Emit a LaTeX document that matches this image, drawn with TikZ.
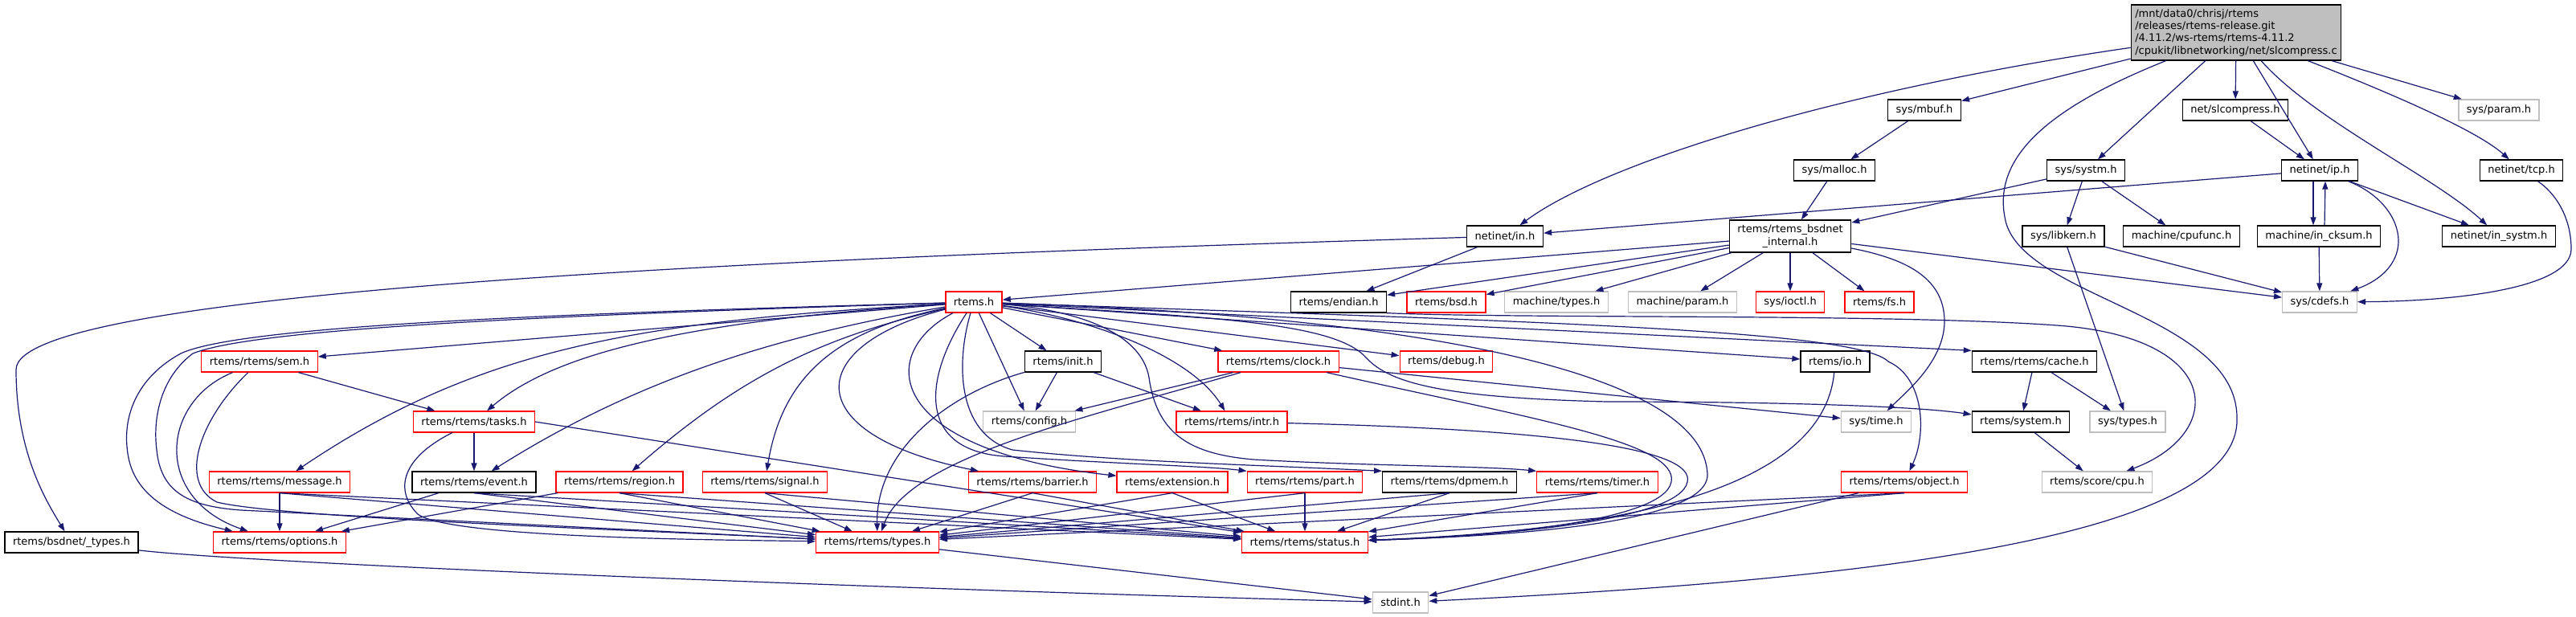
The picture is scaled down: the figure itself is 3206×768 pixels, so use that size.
\documentclass[tikz,border=0pt]{standalone}
\usepackage{fontspec}
\setmainfont{DejaVu Sans}
\usetikzlibrary{arrows.meta}
\definecolor{edgeblue}{HTML}{191970}
\definecolor{boxgrey}{HTML}{BFBFBF}
\definecolor{boxred}{HTML}{FF0000}
\begin{document}
\begin{tikzpicture}[x=1pt, y=-1pt,
  box/.style={draw=black, fill=white, line width=1.3pt, inner xsep=10pt, inner ysep=0pt, minimum height=26pt, font=\fontsize{13}{15.3}\selectfont},
  trunc/.style={box, draw=boxred},
  nodoc/.style={box, draw=boxgrey},
  srcbox/.style={box, fill=boxgrey, align=left, inner xsep=5pt, minimum height=69pt},
  dep/.style={draw=edgeblue, line width=1.2pt, -{Triangle[length=10pt, width=7pt]}}]
\useasboundingbox[fill=white] (0,0) rectangle (3206,768);

\node[srcbox] (main) at (2783,40.5) {/mnt/data0/chrisj/rtems\\/releases/rtems-release.git\\/4.11.2/ws-rtems/rtems-4.11.2\\/cpukit/libnetworking/net/slcompress.c};

\node[box] (mbuf) at (2395,137) {sys/mbuf.h};
\node[box] (slc) at (2782,137) {net/slcompress.h};
\node[nodoc] (param) at (3110,137) {sys/param.h};

\node[box] (malloc) at (2283,212) {sys/malloc.h};
\node[box] (systm) at (2596,212) {sys/systm.h};
\node[box] (ip) at (2887,212) {netinet/ip.h};
\node[box] (tcp) at (3138,212) {netinet/tcp.h};

\node[box] (in) at (1873,294) {netinet/in.h};
\node[box, align=center, minimum height=40pt] (bsdnet) at (2228,294) {rtems/rtems\_bsdnet\\\_internal.h};
\node[box] (libkern) at (2568,294) {sys/libkern.h};
\node[box] (cpufunc) at (2715,294) {machine/cpufunc.h};
\node[box] (cksum) at (2886,294) {machine/in\_cksum.h};
\node[box] (insystm) at (3110,294) {netinet/in\_systm.h};

\node[trunc] (rtemsh) at (1212,376) {rtems.h};
\node[box] (endian) at (1666,376) {rtems/endian.h};
\node[trunc] (bsd) at (1800,376) {rtems/bsd.h};
\node[nodoc] (mtypes) at (1937,376) {machine/types.h};
\node[nodoc] (mparam) at (2094,376) {machine/param.h};
\node[trunc] (ioctl) at (2228,376) {sys/ioctl.h};
\node[trunc] (fs) at (2339,376) {rtems/fs.h};
\node[nodoc] (cdefs) at (2887,376) {sys/cdefs.h};

\node[trunc] (sem) at (323,450) {rtems/rtems/sem.h};
\node[box] (init) at (1323,450) {rtems/init.h};
\node[trunc] (clock) at (1591,450) {rtems/rtems/clock.h};
\node[trunc] (debug) at (1800,450) {rtems/debug.h};
\node[box] (io) at (2284,450) {rtems/io.h};
\node[box] (cache) at (2532,450) {rtems/rtems/cache.h};

\node[trunc] (tasks) at (590,525) {rtems/rtems/tasks.h};
\node[nodoc] (config) at (1281,525) {rtems/config.h};
\node[trunc] (intr) at (1533,525) {rtems/rtems/intr.h};
\node[nodoc] (time) at (2335,525) {sys/time.h};
\node[box] (system) at (2515,525) {rtems/system.h};
\node[nodoc] (stypes) at (2648,525) {sys/types.h};

\node[trunc] (message) at (348,600) {rtems/rtems/message.h};
\node[box] (event) at (590,600) {rtems/rtems/event.h};
\node[trunc] (region) at (771,600) {rtems/rtems/region.h};
\node[trunc] (signal) at (952,600) {rtems/rtems/signal.h};
\node[trunc] (barrier) at (1285,600) {rtems/rtems/barrier.h};
\node[trunc] (ext) at (1459,600) {rtems/extension.h};
\node[trunc] (part) at (1624,600) {rtems/rtems/part.h};
\node[box] (dpmem) at (1804,600) {rtems/rtems/dpmem.h};
\node[trunc] (timer) at (1988,600) {rtems/rtems/timer.h};
\node[trunc] (object) at (2370,600) {rtems/rtems/object.h};
\node[nodoc] (cpu) at (2610,600) {rtems/score/cpu.h};

\node[box] (btypes) at (89,675) {rtems/bsdnet/\_types.h};
\node[trunc] (options) at (348,675) {rtems/rtems/options.h};
\node[trunc] (types) at (1092,675) {rtems/rtems/types.h};
\node[trunc] (status) at (1624,675) {rtems/rtems/status.h};

\node[nodoc] (stdint) at (1743,750) {stdint.h};

\draw[dep] (main) .. controls (2300,110) and (2000,200) .. (in);
\draw[dep] (main) -- (mbuf);
\draw[dep] (main) .. controls (2560,130) and (2480,190) .. (2495,270) .. controls (2510,370) and (2784,390) .. (2784,520) .. controls (2790,680) and (2250,725) .. (stdint);
\draw[dep] (main) -- (systm);
\draw[dep] (main) -- (slc);
\draw[dep] (main) -- (ip);
\draw[dep] (main) .. controls (2880,150) and (3030,220) .. (insystm);
\draw[dep] (main) .. controls (2960,110) and (3080,160) .. (tcp);
\draw[dep] (main) -- (param);
\draw[dep] (mbuf) -- (malloc);
\draw[dep] (slc) -- (ip);
\draw[dep] (malloc) -- (bsdnet);
\draw[dep] (systm) -- (bsdnet);
\draw[dep] (systm) -- (libkern);
\draw[dep] (systm) -- (cpufunc);
\draw[dep] (ip) -- (in);
\draw[dep] ([xshift=-8pt]ip.south) -- ([xshift=-7pt]cksum.north);
\draw[dep] ([xshift=7pt]cksum.north) -- ([xshift=7pt]ip.south);
\draw[dep] (ip) -- (insystm);
\draw[dep] (ip) .. controls (2960,240) and (2985,270) .. (2985,300) .. controls (2985,330) and (2960,350) .. (cdefs);
\draw[dep] (tcp) .. controls (3180,240) and (3200,270) .. (3200,310) .. controls (3200,360) and (3050,375) .. (cdefs);
\draw[dep] (libkern) -- (cdefs);
\draw[dep] (libkern) -- (stypes);
\draw[dep] (cksum) -- (cdefs);
\draw[dep] (bsdnet) -- (cdefs);
\draw[dep] (bsdnet) -- (mparam);
\draw[dep] (bsdnet) -- (ioctl);
\draw[dep] (bsdnet) -- (fs);
\draw[dep] (bsdnet) -- (mtypes);
\draw[dep] (bsdnet) -- (bsd);
\draw[dep] (bsdnet) -- (endian);
\draw[dep] (bsdnet) -- (rtemsh);
\draw[dep] (bsdnet) .. controls (2360,320) and (2420,340) .. (2420,400) .. controls (2420,450) and (2370,490) .. (time);
\draw[dep] (in) -- (endian);
\draw[dep] (in) .. controls (1000,320) and (20,360) .. (20,460) .. controls (20,560) and (55,620) .. (btypes);
\draw[dep] (endian.south east) .. controls (1900,397) and (2350,390) .. (2560,405) .. controls (2770,420) and (2770,540) .. (cpu);

\draw[dep] (rtemsh) -- (sem);
\draw[dep] (rtemsh) .. controls (850,400) and (690,440) .. (tasks);
\draw[dep] (rtemsh) .. controls (800,400) and (600,430) .. (message);
\draw[dep] (rtemsh) .. controls (950,420) and (780,480) .. (event);
\draw[dep] (rtemsh) .. controls (1020,420) and (920,470) .. (region);
\draw[dep] (rtemsh) .. controls (1050,410) and (975,460) .. (signal);
\draw[dep] (rtemsh) .. controls (700,390) and (300,405) .. (225,440) .. controls (170,470) and (150,520) .. (160,570) .. controls (170,620) and (220,645) .. (options);
\draw[dep] (rtemsh) .. controls (700,392) and (320,408) .. (240,440) .. controls (200,470) and (190,520) .. (195,560) .. controls (200,610) and (230,630) .. (300,635) .. controls (500,645) and (800,660) .. (types);
\draw[dep] (rtemsh) -- (config);
\draw[dep] (rtemsh) -- (init);
\draw[dep] (rtemsh) .. controls (1350,395) and (1480,440) .. (intr);
\draw[dep] (rtemsh) -- (clock);
\draw[dep] (rtemsh) -- (debug);
\draw[dep] (rtemsh) .. controls (1000,430) and (990,540) .. (barrier);
\draw[dep] (rtemsh) .. controls (1090,440) and (1100,560) .. (ext);
\draw[dep] (rtemsh) .. controls (1150,470) and (1140,560) .. (1250,568) .. controls (1400,578) and (1500,580) .. (part.north west);
\draw[dep] (rtemsh) .. controls (1190,450) and (1190,540) .. (1260,560) .. controls (1400,575) and (1550,578) .. (dpmem.north west);
\draw[dep] (rtemsh) .. controls (1330,385) and (1420,410) .. (1430,470) .. controls (1440,540) and (1480,565) .. (1560,572) .. controls (1700,580) and (1850,580) .. (timer.north west);
\draw[dep] (rtemsh) -- (io);
\draw[dep] (rtemsh) -- (cache.north west);
\draw[dep] (rtemsh) .. controls (1900,400) and (2310,410) .. (2350,450) .. controls (2395,470) and (2398,540) .. (object);
\draw[dep] (rtemsh) .. controls (1500,395) and (1660,400) .. (1700,445) .. controls (1730,478) and (1800,495) .. (2000,500) .. controls (2200,500) and (2380,505) .. (system);
\draw[dep] (rtemsh) .. controls (1800,395) and (2120,470) .. (2125,590) .. controls (2128,655) and (1850,668) .. (status);

\draw[dep] (sem) -- (tasks);
\draw[dep] (sem) .. controls (200,500) and (190,620) .. (options);
\draw[dep] (sem) .. controls (250,520) and (220,600) .. (270,625) .. controls (350,645) and (800,660) .. (types);
\draw[dep] (tasks) -- (event);
\draw[dep] (tasks) .. controls (500,570) and (490,610) .. (520,640) .. controls (560,670) and (900,672) .. (types);
\draw[dep] (tasks.east) -- (status);
\draw[dep] (message) -- (options);
\draw[dep] (message.south) -- (types);
\draw[dep] (message.south) -- (status);
\draw[dep] (event) -- (options);
\draw[dep] (event.south) -- (types);
\draw[dep] (event.south) -- (status);
\draw[dep] (region) -- (options);
\draw[dep] (region.south) -- (types);
\draw[dep] (region.south) -- (status);
\draw[dep] (signal.south) -- (types);
\draw[dep] (signal.south) -- (status);
\draw[dep] (init) -- (config);
\draw[dep] (init) -- (intr);
\draw[dep] (init) .. controls (1180,490) and (1090,560) .. (types);
\draw[dep] (clock) -- (config);
\draw[dep] (clock) .. controls (1350,520) and (1130,570) .. (types);
\draw[dep] (clock) -- (time);
\draw[dep] (clock) .. controls (1900,520) and (2090,550) .. (2080,600) .. controls (2070,650) and (1850,668) .. (status);
\draw[dep] (intr) .. controls (1950,535) and (2110,560) .. (2100,600) .. controls (2090,650) and (1850,668) .. (status);
\draw[dep] (barrier.south) -- (types);
\draw[dep] (barrier.south) -- (status);
\draw[dep] (ext.south) -- (types);
\draw[dep] (ext.south) -- (status);
\draw[dep] (part.south) -- (types);
\draw[dep] (part) -- (status);
\draw[dep] (dpmem.south) -- (types);
\draw[dep] (dpmem.south) -- (status);
\draw[dep] (timer.south) -- (types);
\draw[dep] (timer.south) -- (status);
\draw[dep] (io) .. controls (2270,600) and (2050,660) .. (status);
\draw[dep] (object.south) -- (types);
\draw[dep] (object.south) -- (status);
\draw[dep] (object) -- (stdint);
\draw[dep] (cache) -- (system);
\draw[dep] (cache) -- (stypes);
\draw[dep] (system) -- (cpu);
\draw[dep] (types) -- (stdint);
\draw[dep] (btypes) .. controls (300,700) and (1000,730) .. (stdint);
\end{tikzpicture}
\end{document}
